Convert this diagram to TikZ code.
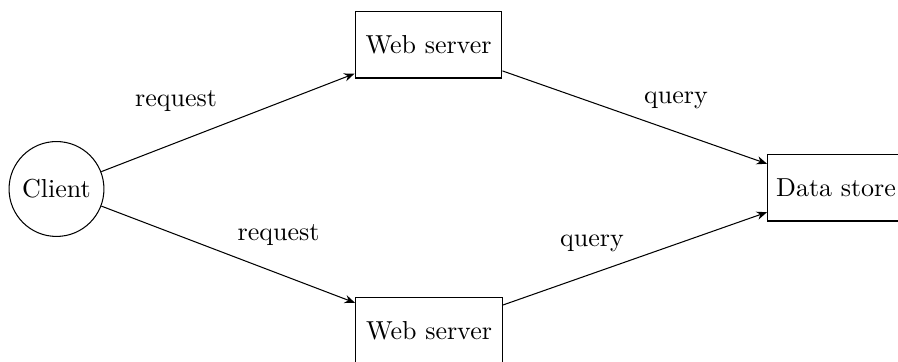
\documentclass[tikz,border=0pt]{standalone}
\usetikzlibrary{arrows.meta}
\begin{document}
\begin{tikzpicture}[x=0.3846pt,y=-0.3846pt,
  box/.style={draw,rectangle,minimum width=56.5pt,minimum height=25.4pt,inner sep=3.33pt},
  ball/.style={draw,circle,minimum size=36.5pt,inner sep=0pt},
  lbl/.style={anchor=base,inner sep=0pt},
  arr/.style={-{Stealth[length=4pt,width=3.2pt]},line width=0.4pt}]
\useasboundingbox (0,0) rectangle (898,362);
\node[ball] (client) at (56.5,189) {Client};
\node[box] (web1) at (428.5,45) {Web server};
\node[box] (web2) at (429,331) {Web server};
\node[box,minimum width=0pt,anchor=west] (data) at (767,188) {Data store};
\draw[arr] (client) -- (web1);
\draw[arr] (client) -- (web2);
\draw[arr] (web1) -- (data);
\draw[arr] (web2) -- (data);
\node[lbl] (l1) at (176,107) {request};
\node[lbl] (l2) at (278.5,241) {request};
\node[lbl] (l3) at (676,104) {query};
\node[lbl] (l4) at (592,247) {query};
\end{tikzpicture}
\end{document}
